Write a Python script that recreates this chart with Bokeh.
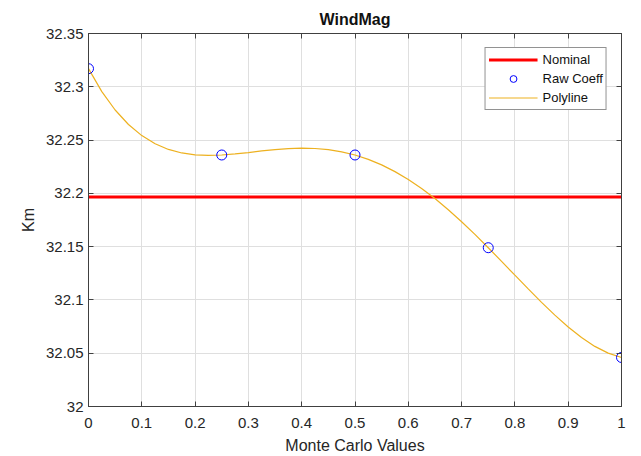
from bokeh.plotting import figure
from bokeh.models import LinearAxis, FixedTicker, Range1d, Legend, LegendItem
from bokeh.embed import file_html
from bokeh.resources import INLINE

# ---- data ----
mc_values = [0.0, 0.25, 0.5, 0.75, 1.0]
raw_coeff = [32.317, 32.236, 32.236, 32.149, 32.046]
nominal = 32.1965

poly_x = [0.0, 0.025, 0.05, 0.075, 0.1, 0.125, 0.15, 0.175, 0.2, 0.225,
          0.25, 0.275, 0.3, 0.325, 0.35, 0.375, 0.4, 0.425, 0.45, 0.475,
          0.5, 0.525, 0.55, 0.575, 0.6, 0.625, 0.65, 0.675, 0.7, 0.725,
          0.75, 0.775, 0.8, 0.825, 0.85, 0.875, 0.9, 0.925, 0.95, 0.975, 1.0]
poly_y = [32.317, 32.2955, 32.2782, 32.2646, 32.2542, 32.2465, 32.2412, 32.2379,
          32.2361, 32.2356, 32.236, 32.237, 32.2383, 32.2398, 32.241, 32.242,
          32.2424, 32.2421, 32.241, 32.239, 32.236, 32.2319, 32.2267, 32.2204,
          32.213, 32.2045, 32.1951, 32.1846, 32.1734, 32.1615, 32.149, 32.1362,
          32.1232, 32.1103, 32.0977, 32.0857, 32.0746, 32.0648, 32.0564, 32.0501,
          32.046]

x_ticks = [0, 0.1, 0.2, 0.3, 0.4, 0.5, 0.6, 0.7, 0.8, 0.9, 1.0]
x_tick_labels = ["0", "0.1", "0.2", "0.3", "0.4", "0.5", "0.6", "0.7", "0.8", "0.9", "1"]
y_ticks = [32.0, 32.05, 32.1, 32.15, 32.2, 32.25, 32.3, 32.35]
y_tick_labels = ["32", "32.05", "32.1", "32.15", "32.2", "32.25", "32.3", "32.35"]

FONT = "Liberation Sans"
TXT = "#262626"
AX = "#404040"

p = figure(width=641, height=456, output_backend="svg", toolbar_location=None,
           x_range=Range1d(0, 1), y_range=Range1d(32.0, 32.35),
           title="WindMag", x_axis_label="Monte Carlo Values", y_axis_label="Km",
           min_border_left=88, min_border_right=20, min_border_top=33, min_border_bottom=49)
p.background_fill_color = "white"
p.border_fill_color = "white"
p.outline_line_color = AX
p.outline_line_width = 1

p.title.text_font = FONT
p.title.text_font_size = "16px"
p.title.text_font_style = "bold"
p.title.text_color = "#111111"
p.title.align = "center"
p.title.standoff = 12

for ax, ticks, labels in ((p.xaxis[0], x_ticks, x_tick_labels), (p.yaxis[0], y_ticks, y_tick_labels)):
    ax.ticker = FixedTicker(ticks=ticks)
    ax.major_label_overrides = {t: l for t, l in zip(ticks, labels)}
    ax.major_label_text_font = FONT
    ax.major_label_text_font_size = "15px"
    ax.major_label_text_color = TXT
    ax.axis_label_text_font = FONT
    ax.axis_label_text_font_size = "16px"
    ax.axis_label_text_font_style = "normal"
    ax.axis_label_text_color = TXT
    ax.axis_line_color = AX
    ax.major_tick_line_color = AX
    ax.major_tick_in = 5
    ax.major_tick_out = 0
    ax.minor_tick_line_color = None

p.xaxis[0].major_label_standoff = 11
p.xaxis[0].axis_label_standoff = 6
p.yaxis[0].major_label_standoff = 5
p.yaxis[0].axis_label_standoff = 6

# box axes (top and right) with inward ticks, no labels
top = LinearAxis(ticker=FixedTicker(ticks=x_ticks),
                 major_label_overrides={t: "" for t in x_ticks},
                 major_label_standoff=0, major_tick_in=5, major_tick_out=0,
                 axis_line_color=AX, major_tick_line_color=AX, minor_tick_line_color=None)
right = LinearAxis(ticker=FixedTicker(ticks=y_ticks),
                   major_label_overrides={t: "" for t in y_ticks},
                   major_label_standoff=0, major_tick_in=5, major_tick_out=0,
                   axis_line_color=AX, major_tick_line_color=AX, minor_tick_line_color=None)
p.add_layout(top, "above")
p.add_layout(right, "right")

p.xgrid.ticker = FixedTicker(ticks=x_ticks)
p.ygrid.ticker = FixedTicker(ticks=y_ticks)
p.grid.grid_line_color = "#dfdfdf"
p.grid.grid_line_width = 1

r_nom = p.line([mc_values[0], mc_values[-1]], [nominal, nominal], line_color="#ff0000", line_width=3)
r_poly = p.line(poly_x, poly_y, line_color="#EDB120", line_width=1.2)
r_raw = p.scatter(mc_values, raw_coeff, marker="circle", size=10, fill_color=None,
                  line_color="#0000ff", line_width=1)

legend = Legend(items=[LegendItem(label="Nominal", renderers=[r_nom]),
                       LegendItem(label="Raw Coeff", renderers=[r_raw]),
                       LegendItem(label="Polyline", renderers=[r_poly])],
                location="top_right")
legend.margin = 14
legend.padding = 3
legend.spacing = 2
legend.glyph_width = 49
legend.glyph_height = 17
legend.label_standoff = 5
legend.label_height = 17
legend.label_text_font = FONT
legend.label_text_font_size = "13px"
legend.label_text_color = "#111111"
legend.border_line_color = "#262626"
legend.border_line_width = 1
legend.background_fill_color = "white"
legend.background_fill_alpha = 1
p.add_layout(legend, "center")

open("out.html", "w").write(file_html(p, INLINE))
